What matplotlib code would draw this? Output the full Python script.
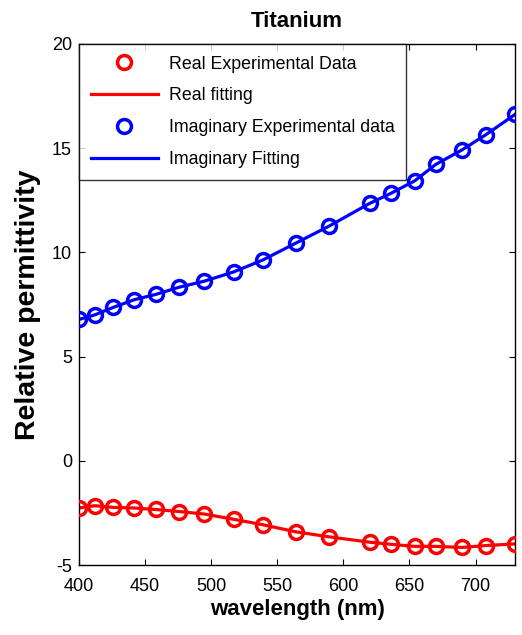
import matplotlib
matplotlib.use("Agg")
import matplotlib.pyplot as plt

plt.rcParams['font.family'] = ['Liberation Sans', 'DejaVu Sans']
plt.rcParams['axes.unicode_minus'] = False

wavelength = [400, 412, 426, 442, 458, 476, 495, 517, 539, 564, 589, 620, 636, 654, 670, 690, 708, 730]
real_exp = [-2.26, -2.15, -2.23, -2.26, -2.33, -2.43, -2.55, -2.80, -3.06, -3.40, -3.64, -3.90, -4.00, -4.10, -4.10, -4.15, -4.06, -3.98]
real_fit = real_exp
imag_exp = [6.78, 7.00, 7.36, 7.73, 7.98, 8.33, 8.62, 9.06, 9.63, 10.44, 11.25, 12.35, 12.83, 13.43, 14.22, 14.92, 15.65, 16.62]
imag_fit = imag_exp
xticks = [400, 450, 500, 550, 600, 650, 700]
yticks = [-5, 0, 5, 10, 15, 20]

fig = plt.figure(figsize=(5.22, 6.35), dpi=100)
ax = fig.add_axes([0.151, 0.110, 0.836, 0.821])

ax.plot(wavelength, real_exp, 'o', mfc='none', mec='red', mew=2.5, ms=10, label='Real Experimental Data', zorder=3)
ax.plot(wavelength, real_fit, '-', color='red', lw=2.3, label='Real fitting')
ax.plot(wavelength, imag_exp, 'o', mfc='none', mec='blue', mew=2.5, ms=10, label='Imaginary Experimental data', zorder=3)
ax.plot(wavelength, imag_fit, '-', color='blue', lw=2.3, label='Imaginary Fitting')

ax.set_xlim(400, 730)
ax.set_ylim(-5, 20)
ax.set_xticks(xticks)
ax.set_yticks(yticks)
ax.tick_params(direction='in', top=True, right=True, length=4, labelsize=13)
ax.tick_params(axis='x', pad=9)
ax.tick_params(axis='y', pad=5)
for s in ax.spines.values():
    s.set_linewidth(1.0)

ax.set_title('Titanium', fontsize=16, fontweight='bold', pad=12)
ax.set_xlabel('wavelength (nm)', fontsize=16, fontweight='bold', labelpad=3)
ax.set_ylabel('Relative permittivity', fontsize=20.5, fontweight='bold', labelpad=8)

leg = ax.legend(loc='upper left', fontsize=12.8, frameon=True, fancybox=False,
                edgecolor='black', borderaxespad=0, handlelength=3.8,
                labelspacing=0.84, borderpad=0.66, handletextpad=0.6)
leg.get_frame().set_linewidth(1.0)

fig.savefig('out.png', dpi=100)
